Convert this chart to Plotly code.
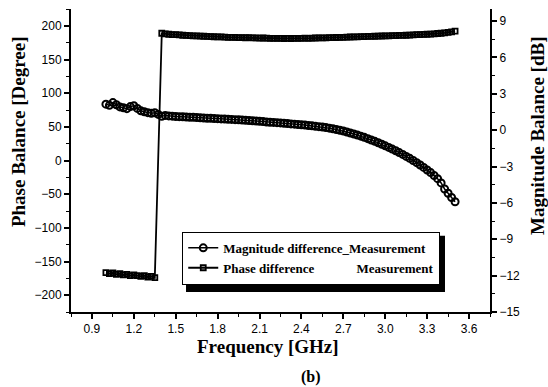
import plotly.graph_objects as go

# Magnitude difference (dB), right axis
mag_freq = [1.000, 1.025, 1.050, 1.075, 1.100, 1.125, 1.150, 1.175, 1.200, 1.225,
            1.250, 1.275, 1.300, 1.325, 1.350, 1.375, 1.400, 1.425, 1.450, 1.475,
            1.500, 1.525, 1.550, 1.575, 1.600, 1.625, 1.650, 1.675, 1.700, 1.725,
            1.750, 1.775, 1.800, 1.825, 1.850, 1.875, 1.900, 1.925, 1.950, 1.975,
            2.000, 2.025, 2.050, 2.075, 2.100, 2.125, 2.150, 2.175, 2.200, 2.225,
            2.250, 2.275, 2.300, 2.325, 2.350, 2.375, 2.400, 2.425, 2.450, 2.475,
            2.500, 2.525, 2.550, 2.575, 2.600, 2.625, 2.650, 2.675, 2.700, 2.725,
            2.750, 2.775, 2.800, 2.825, 2.850, 2.875, 2.900, 2.925, 2.950, 2.975,
            3.000, 3.025, 3.050, 3.075, 3.100, 3.125, 3.150, 3.175, 3.200, 3.225,
            3.250, 3.275, 3.300, 3.325, 3.350, 3.375, 3.400, 3.425, 3.450, 3.475,
            3.500]
mag_db = [2.15, 2.05, 2.28, 2.10, 1.92, 1.85, 1.78, 1.95, 2.02, 1.80,
          1.60, 1.52, 1.45, 1.40, 1.44, 1.30, 1.15, 1.22, 1.18, 1.16,
          1.13, 1.12, 1.10, 1.09, 1.07, 1.06, 1.04, 1.02, 1.01, 0.99,
          0.98, 0.96, 0.95, 0.93, 0.92, 0.90, 0.89, 0.87, 0.86, 0.84,
          0.82, 0.80, 0.78, 0.76, 0.74, 0.71, 0.68, 0.66, 0.64, 0.62,
          0.60, 0.57, 0.55, 0.52, 0.50, 0.47, 0.44, 0.42, 0.39, 0.36,
          0.32, 0.29, 0.26, 0.22, 0.17, 0.12, 0.06, 0.00, -0.07, -0.15,
          -0.23, -0.31, -0.40, -0.49, -0.59, -0.70, -0.81, -0.92, -1.04, -1.16,
          -1.29, -1.42, -1.56, -1.70, -1.85, -2.00, -2.16, -2.32, -2.50, -2.68,
          -2.87, -3.07, -3.28, -3.50, -3.74, -4.00, -4.35, -4.85, -5.20, -5.55,
          -5.90]

# Phase difference (degree), left axis
phase_freq = [1.000, 1.025, 1.050, 1.075, 1.100, 1.125, 1.150, 1.175, 1.200, 1.225,
              1.250, 1.275, 1.300, 1.325, 1.350, 1.400, 1.425, 1.450, 1.475,
              1.500, 1.525, 1.550, 1.575, 1.600, 1.625, 1.650, 1.675, 1.700, 1.725,
              1.750, 1.775, 1.800, 1.825, 1.850, 1.875, 1.900, 1.925, 1.950, 1.975,
              2.000, 2.025, 2.050, 2.075, 2.100, 2.125, 2.150, 2.175, 2.200, 2.225,
              2.250, 2.275, 2.300, 2.325, 2.350, 2.375, 2.400, 2.425, 2.450, 2.475,
              2.500, 2.525, 2.550, 2.575, 2.600, 2.625, 2.650, 2.675, 2.700, 2.725,
              2.750, 2.775, 2.800, 2.825, 2.850, 2.875, 2.900, 2.925, 2.950, 2.975,
              3.000, 3.025, 3.050, 3.075, 3.100, 3.125, 3.150, 3.175, 3.200, 3.225,
              3.250, 3.275, 3.300, 3.325, 3.350, 3.375, 3.400, 3.425, 3.450, 3.475,
              3.500]
phase_deg = [-166.5, -168.0, -167.0, -169.0, -168.0, -170.0, -169.0, -171.0, -170.0, -171.0,
             -172.0, -171.0, -173.0, -172.0, -174.0, 189.0, 188.0, 187.5, 187.0,
             186.8, 186.5, 186.0, 185.8, 185.5, 185.0, 185.2, 184.8, 184.5, 184.2,
             184.0, 183.8, 183.5, 183.6, 183.2, 183.0, 182.8, 182.9, 182.6, 182.5,
             182.3, 182.4, 182.1, 182.0, 181.8, 181.9, 181.6, 181.5, 181.4, 181.5,
             181.3, 181.2, 181.3, 181.2, 181.4, 181.3, 181.5, 181.6, 181.5, 181.8,
             181.9, 182.0, 182.2, 182.1, 182.4, 182.6, 182.7, 182.9, 183.0, 183.2,
             183.4, 183.5, 183.7, 183.9, 184.0, 184.2, 184.4, 184.5, 184.7, 184.9,
             185.0, 185.2, 185.4, 185.5, 185.7, 185.9, 186.0, 186.3, 186.5, 186.8,
             187.0, 187.3, 187.5, 187.8, 188.2, 188.6, 189.0, 189.6, 190.4, 191.0,
             192.0]

x_ticks = [0.9, 1.2, 1.5, 1.8, 2.1, 2.4, 2.7, 3.0, 3.3, 3.6]
left_ticks = [200, 150, 100, 50, 0, -50, -100, -150, -200]
right_ticks = [9, 6, 3, 0, -3, -6, -9, -12, -15]

SERIF = "Liberation Serif, Times New Roman, serif"
SANS = "Liberation Sans, Arial, sans-serif"
NBSP = "\u00a0"

fig = go.Figure()
fig.add_trace(go.Scatter(
    x=mag_freq, y=mag_db, yaxis="y2", mode="lines+markers",
    name="Magnitude difference_Measurement",
    line=dict(color="black", width=1.5),
    marker=dict(symbol="circle-open", size=7, color="black", line=dict(width=2, color="black")),
))
fig.add_trace(go.Scatter(
    x=phase_freq, y=phase_deg, mode="lines+markers",
    name="Phase difference" + NBSP * 13 + "Measurement",
    line=dict(color="black", width=1.8),
    marker=dict(symbol="square-open", size=5, color="black", line=dict(width=1.8, color="black")),
))

axis_common = dict(showline=True, linecolor="black", linewidth=2, showgrid=False,
                   zeroline=False, ticks="outside", ticklen=5, tickwidth=1.5,
                   tickcolor="black", tickfont=dict(family=SANS, size=12, color="black"))

fig.update_layout(
    width=548, height=387,
    margin=dict(l=71, r=58, t=9, b=75),
    paper_bgcolor="white", plot_bgcolor="white",
    showlegend=True,
    xaxis=dict(range=[0.75, 3.75], tickvals=x_ticks, ticktext=[f"{v:.1f}" for v in x_ticks],
               minor=dict(dtick=0.15, tick0=0.9, ticks="outside", ticklen=3, tickcolor="black", tickwidth=1.2),
               **axis_common),
    xaxis2=dict(range=[0.75, 3.75], overlaying="x", side="top", matches="x",
                showline=True, linecolor="black", linewidth=2, showgrid=False, zeroline=False,
                ticks="inside", ticklen=5, tickwidth=1.5, tickcolor="black", showticklabels=False,
                tickvals=x_ticks,
                minor=dict(dtick=0.15, tick0=0.9, ticks="inside", ticklen=3, tickcolor="black", tickwidth=1.2)),
    yaxis=dict(range=[-225, 225], tickvals=left_ticks,
               minor=dict(dtick=25, tick0=0, ticks="outside", ticklen=3, tickcolor="black", tickwidth=1.2),
               **axis_common),
    yaxis2=dict(range=[-15, 10], overlaying="y", side="right", tickvals=right_ticks,
                minor=dict(dtick=1.5, tick0=0, ticks="outside", ticklen=3, tickcolor="black", tickwidth=1.2),
                **axis_common),
    legend=dict(x=0.265, y=0.265, xanchor="left", yanchor="top",
                bgcolor="white", bordercolor="black", borderwidth=1.2,
                font=dict(family=SERIF, size=13, color="black", weight="bold"),
                itemwidth=30, tracegroupgap=0),
    shapes=[
        # legend drop shadow
        dict(type="rect", xref="paper", yref="paper", x0=0.2745, x1=0.8926, y0=0.066, y1=0.252,
             fillcolor="black", line=dict(width=0), layer="above"),
    ],
    annotations=[
        dict(text="<b>Phase Balance [Degree]</b>", xref="paper", yref="paper", x=-0.1265, y=0.597,
             xanchor="center", yanchor="middle",
             textangle=-90, showarrow=False, font=dict(family=SERIF, size=19, color="black")),
        dict(text="<b>Magnitude Balance [dB]</b>", xref="paper", yref="paper", x=1.1146, y=0.581,
             xanchor="center", yanchor="middle",
             textangle=-90, showarrow=False, font=dict(family=SERIF, size=19, color="black")),
        dict(text="<b>Frequency [GHz]</b>", xref="paper", yref="paper", x=0.470, y=-0.1155,
             xanchor="center", yanchor="middle",
             showarrow=False, font=dict(family=SERIF, size=19, color="black")),
        dict(text="<b>(b)</b>", xref="paper", yref="paper", x=0.573, y=-0.2145,
             xanchor="center", yanchor="middle",
             showarrow=False, font=dict(family=SERIF, size=16, color="black")),
    ],
)

fig.write_html("out.html", config={"displayModeBar": False},
               post_script="document.body.style.margin='0px';")
